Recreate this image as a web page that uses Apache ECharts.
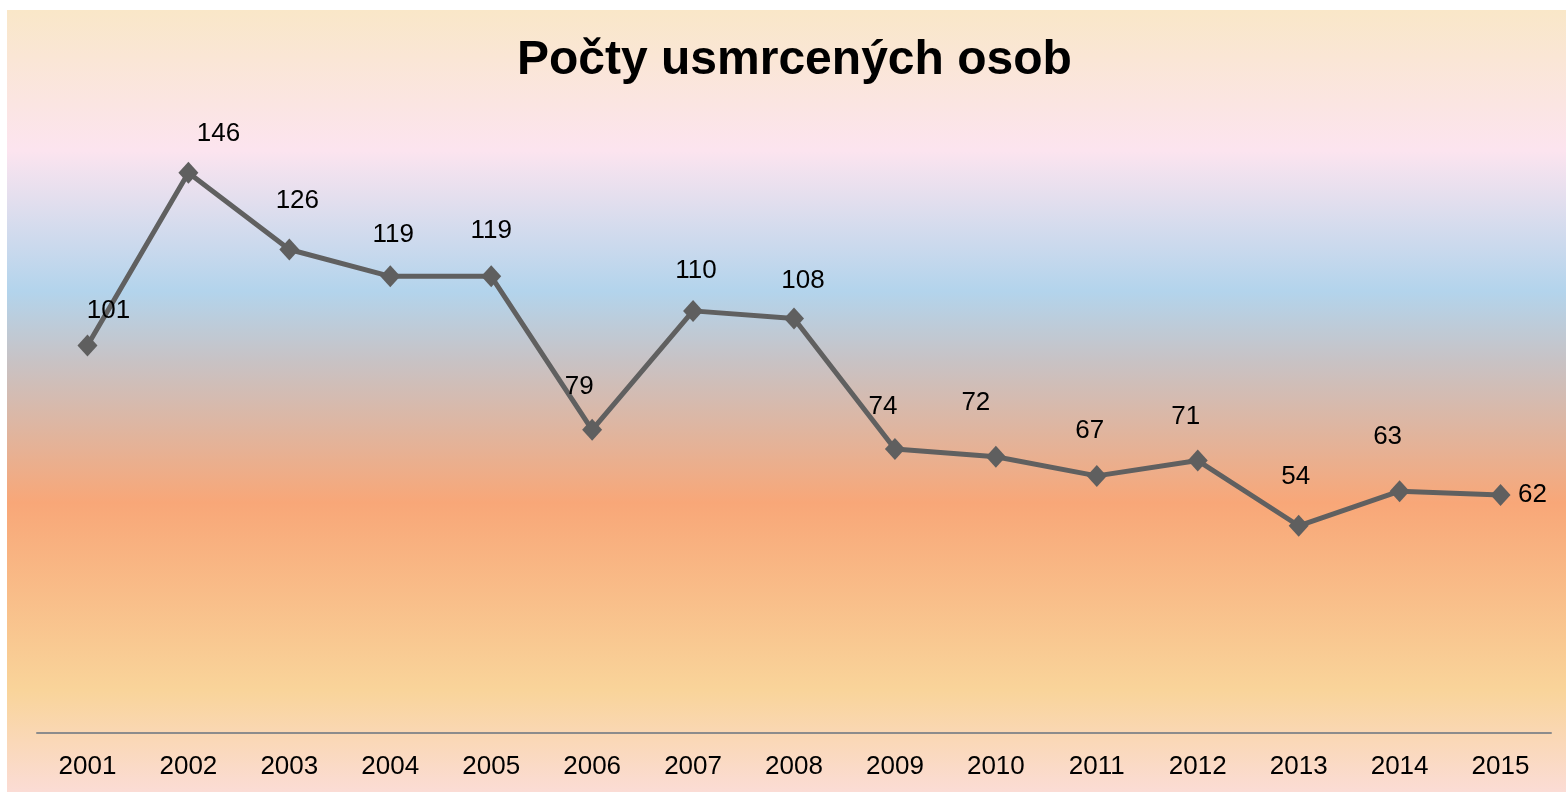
<!DOCTYPE html>
<html>
<head>
<meta charset="utf-8">
<script src="https://cdn.jsdelivr.net/npm/echarts@6/dist/echarts.min.js"></script>
<style>
    html, body { margin: 0; padding: 0; background: #fff; }
    #chart { width: 1566px; height: 792px; }
</style>
</head>
<body>
<div id="chart"></div>
<script>
// data
const years = ['2001', '2002', '2003', '2004', '2005', '2006', '2007', '2008',
    '2009', '2010', '2011', '2012', '2013', '2014', '2015'];
const deaths = [101, 146, 126, 119, 119, 79, 110, 108, 74, 72, 67, 71, 54, 63, 62];

// hand placed label nudges (layout only, not data)
const labelNudge = [[21, -35], [30, -39], [8, -49], [3, -42], [0, -46], [-13, -43], [3, -40], [9, -38],
    [-12, -42], [-20, -54], [-7, -45], [-12, -44], [-3, -49], [-12, -54], [32, 0]];

const font = '"Liberation Sans", Arial, sans-serif';

const chart = echarts.init(document.getElementById('chart'));

let points = deaths.map(function(v, i) {
    return {
        value: v,
        label: { offset: labelNudge[i] }
    };
});

chart.setOption({
    animation: false,
    graphic: [{
        type: 'rect',
        z: -10,
        shape: { x: 7, y: 10, width: 1559, height: 782 },
        style: {
            fill: new echarts.graphic.LinearGradient(0, 0, 0, 1, [
                { offset: 0, color: '#f9e7c8' },
                { offset: 0.18, color: '#fce4ef' },
                { offset: 0.36, color: '#b3d4ec' },
                { offset: 0.45, color: '#c8c2c4' },
                { offset: 0.63, color: '#f8a778' },
                { offset: 0.87, color: '#f9d49a' },
                { offset: 1, color: '#fbdcd5' }
            ])
        }
    }],
    title: {
        text: 'Počty usmrcených osob',
        left: 512,
        top: 32,
        textStyle: {
            fontFamily: font,
            fontSize: 48,
            fontWeight: 'bold',
            color: '#000'
        }
    },
    grid: {
        left: 37,
        right: 15,
        top: 119,
        bottom: 59
    },
    xAxis: {
        type: 'category',
        data: years,
        boundaryGap: true,
        axisLine: { lineStyle: { color: '#8c8c8c', width: 2 } },
        axisTick: { show: false },
        axisLabel: {
            color: '#000',
            fontFamily: font,
            fontSize: 26,
            margin: 21
        }
    },
    yAxis: {
        type: 'value',
        min: 0,
        max: 160,
        show: false,
        splitLine: { show: false }
    },
    series: [{
        type: 'line',
        data: points,
        symbol: 'diamond',
        symbolSize: [20, 22],
        lineStyle: { color: '#606060', width: 5 },
        itemStyle: { color: '#5f5f5f' },
        label: {
            show: true,
            position: 'inside',
            align: 'center',
            verticalAlign: 'middle',
            color: '#000',
            fontFamily: font,
            fontSize: 26
        }
    }]
});
</script>
</body>
</html>
